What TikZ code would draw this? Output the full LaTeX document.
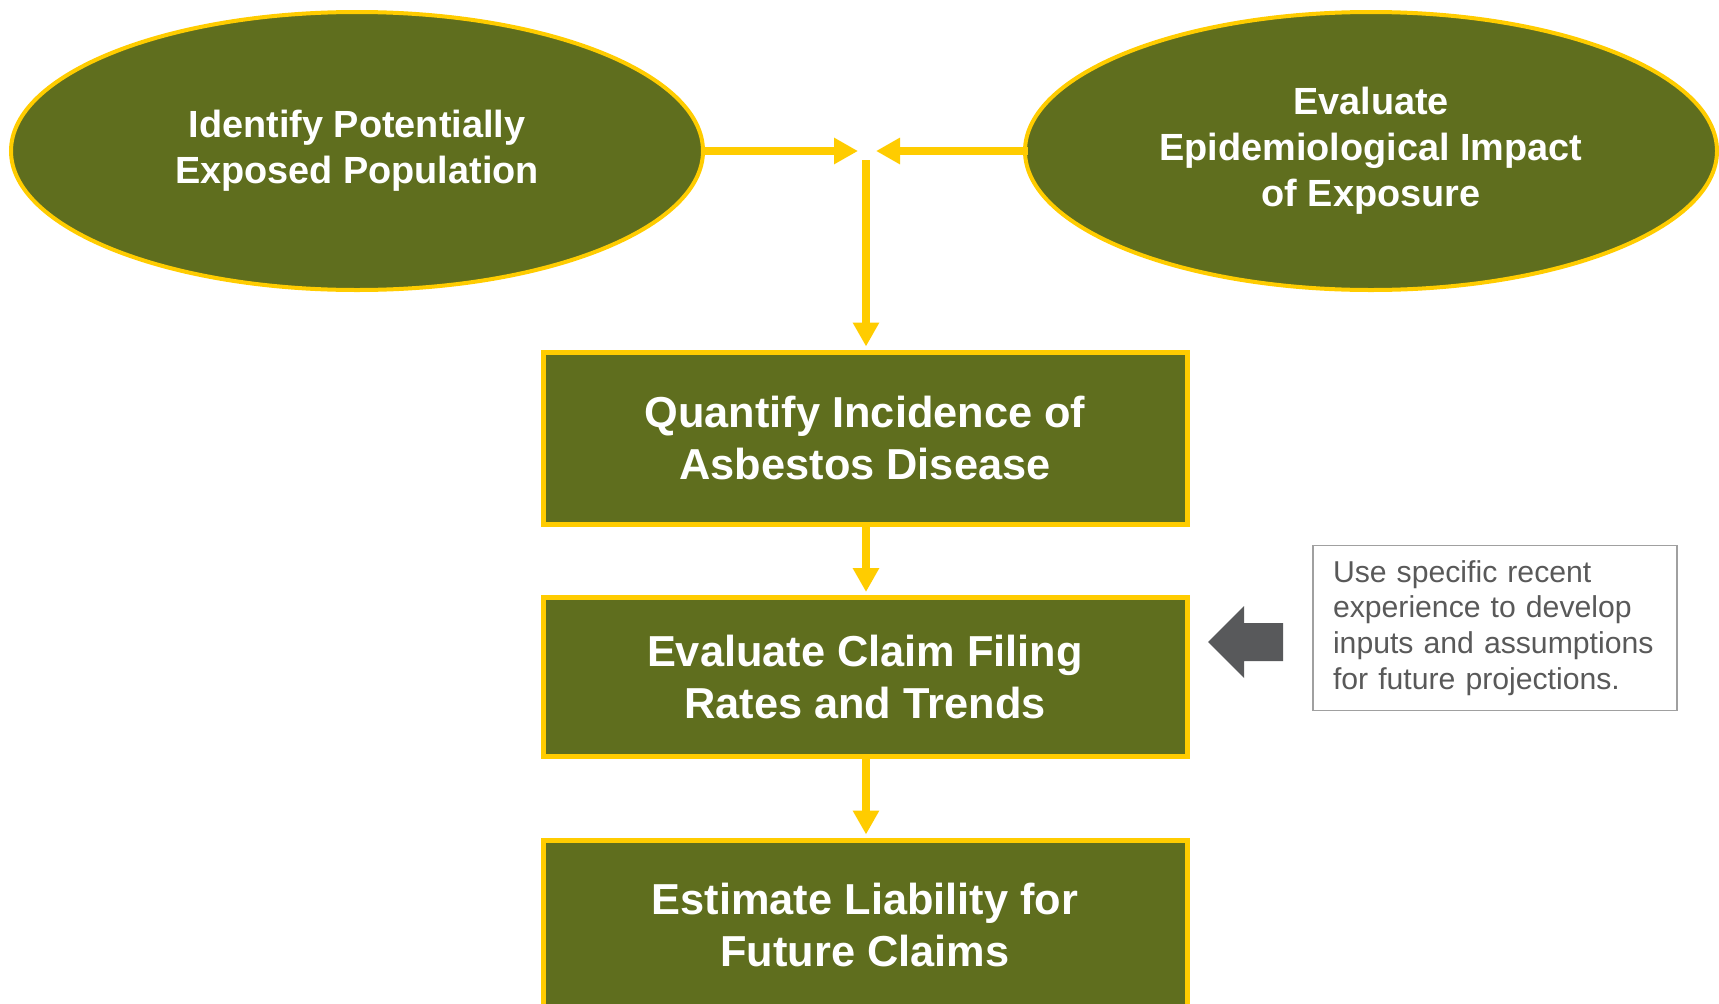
\documentclass[tikz,border=0pt]{standalone}
\usepackage{fontspec}
\setmainfont{Liberation Sans}
\usetikzlibrary{shapes.geometric,arrows.meta}
\definecolor{oliveG}{RGB}{95,110,30}
\definecolor{goldY}{RGB}{255,204,0}
\definecolor{grayA}{RGB}{88,89,91}
\definecolor{grayB}{RGB}{160,160,160}
\definecolor{grayT}{RGB}{89,89,89}
\begin{document}
\begin{tikzpicture}[x=1bp,y=-1bp,
  oval/.style={ellipse, draw=goldY, line width=4bp, fill=oliveG,
    minimum width=692bp, minimum height=278bp, inner sep=0pt, text=white,
    font=\fontsize{38}{46}\selectfont\bfseries, align=center},
  stepbox/.style={rectangle, draw=goldY, line width=5bp, fill=oliveG,
    minimum width=644bp, inner sep=0pt, text=white,
    font=\fontsize{43.5}{52}\selectfont\bfseries, align=center},
  flow/.style={draw=goldY, line width=8bp, -{Triangle[width=25bp,length=24bp]}},
  note/.style={rectangle, draw=grayB, line width=1.2bp, minimum width=364bp,
    minimum height=165bp, inner sep=0pt, text width=324bp, align=left,
    text=grayT, font=\fontsize{30.3}{36}\selectfont}
]
\useasboundingbox (0,0) rectangle (1719,1003);
\clip (0,0) rectangle (1719,1003);

\node[oval] (e1) at (357,151) {Identify Potentially\\Exposed Population};
\node[oval] (e2) at (1371,151) {Evaluate\\Epidemiological Impact\\of Exposure};

\coordinate (jl) at (858,151);
\coordinate (jr) at (876,151);
\coordinate (jt) at (866,160);

\node[stepbox, minimum height=172bp] (b1) at (865,438) {Quantify Incidence of\\Asbestos Disease};
\node[stepbox, minimum height=159bp] (b2) at (865,677) {Evaluate Claim Filing\\Rates and Trends};
\node[stepbox, minimum height=170bp] (b3) at (865,925) {Estimate Liability for\\Future Claims};

\draw[flow] (e1.east) -- (jl);
\draw[flow] ([xshift=5bp]e2.west) -- (jr);
\draw[flow, shorten >=3bp] (jt) -- (b1.north -| jt);
\draw[flow, shorten >=3bp] (b1.south -| jt) -- (b2.north -| jt);
\draw[flow, shorten >=3bp] (b2.south -| jt) -- (b3.north -| jt);

\fill[grayA] (1208,642) -- (1244,606) -- (1244,623) -- (1283,623) -- (1283,661)
  -- (1244,661) -- (1244,678) -- cycle;

\node[note] (n) at (1495,628) {Use specific recent\\experience to develop\\inputs and assumptions\\for future projections.};
\end{tikzpicture}
\end{document}
